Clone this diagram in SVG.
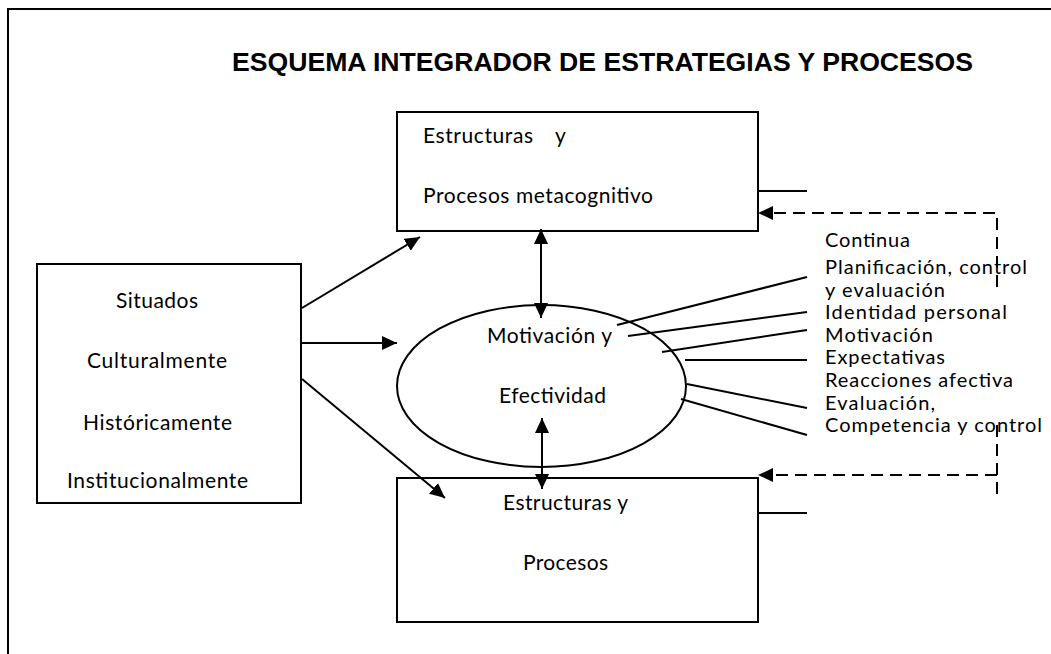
<svg xmlns="http://www.w3.org/2000/svg" width="1051" height="654" viewBox="0 0 1051 654">
<style>
.box{fill:#fff;stroke:#000;stroke-width:2}
.ln{fill:none;stroke:#000;stroke-width:2}
.dash{fill:none;stroke:#000;stroke-width:2;stroke-dasharray:12 7}
.head{fill:#000;stroke:none}
.t{font-family:Lato,"Open Sans",sans-serif;font-size:21px;fill:#000}
.s{font-family:Lato,"Open Sans",sans-serif;font-size:20px;fill:#000}
.title{font-family:"Liberation Sans",Arial,sans-serif;font-weight:bold;font-size:25px;fill:#000}
</style>
<defs>
<marker id="ah" viewBox="0 0 15 14" refX="15" refY="7" markerWidth="15" markerHeight="14" markerUnits="userSpaceOnUse" orient="auto-start-reverse">
<path d="M0,0 L15,7 L0,14 z" fill="#000"/>
</marker>
</defs>
<rect width="1051" height="654" fill="#fff"/>
<path class="ln" d="M8,654 V9 H1051"/>
<text class="title" x="232" y="71" textLength="741" lengthAdjust="spacingAndGlyphs">ESQUEMA INTEGRADOR DE ESTRATEGIAS Y PROCESOS</text>

<g id="node-top">
<rect class="box" x="397" y="112" width="361" height="119"/>
<text class="t" x="423" y="143" textLength="110">Estructuras</text>
<text class="t" x="555" y="143">y</text>
<text class="t" x="423" y="203" textLength="230">Procesos metacognitivo</text>
</g>

<g id="node-left">
<rect class="box" x="37" y="264" width="264" height="239"/>
<text class="t" x="116" y="308" textLength="82">Situados</text>
<text class="t" x="87" y="368" textLength="140">Culturalmente</text>
<text class="t" x="83" y="430" textLength="149">Históricamente</text>
<text class="t" x="67" y="488" textLength="181">Institucionalmente</text>
</g>

<g id="node-ellipse">
<ellipse cx="541.5" cy="386" rx="144.5" ry="81" fill="#fff" stroke="#000" stroke-width="2"/>
<text class="t" x="487" y="343" textLength="125">Motivación y</text>
<text class="t" x="499" y="403" textLength="107">Efectividad</text>
</g>

<g id="node-bottom">
<rect class="box" x="397" y="478" width="361" height="144"/>
<text class="t" x="503" y="510" textLength="125">Estructuras y</text>
<text class="t" x="523" y="570" textLength="85">Procesos</text>
</g>

<g id="labels">
<text class="s" x="825" y="247" textLength="85">Continua</text>
<text class="s" x="825" y="274" textLength="202">Planificación, control</text>
<text class="s" x="825" y="297" textLength="120">y evaluación</text>
<text class="s" x="825" y="319" textLength="182">Identidad personal</text>
<text class="s" x="825" y="342" textLength="108">Motivación</text>
<text class="s" x="825" y="364" textLength="120">Expectativas</text>
<text class="s" x="825" y="387" textLength="188">Reacciones afectiva</text>
<text class="s" x="825" y="410" textLength="110">Evaluación,</text>
<text class="s" x="825" y="432" textLength="217">Competencia y control</text>
</g>

<g id="connectors">
<line class="ln" x1="302" y1="308" x2="420" y2="237" marker-end="url(#ah)"/>
<line class="ln" x1="302" y1="343" x2="397" y2="343" marker-end="url(#ah)"/>
<line class="ln" x1="302" y1="379" x2="445" y2="498" marker-end="url(#ah)"/>
<line class="ln" x1="541" y1="318" x2="541" y2="229" marker-start="url(#ah)" marker-end="url(#ah)"/>
<line class="ln" x1="542" y1="418" x2="542" y2="489" marker-start="url(#ah)" marker-end="url(#ah)"/>
<line class="ln" x1="617" y1="325" x2="807" y2="277"/>
<line class="ln" x1="628" y1="336" x2="807" y2="312"/>
<line class="ln" x1="662" y1="352" x2="807" y2="330"/>
<line class="ln" x1="685" y1="360" x2="807" y2="360"/>
<line class="ln" x1="687" y1="384" x2="807" y2="408"/>
<line class="ln" x1="681" y1="399" x2="807" y2="435"/>
<line class="ln" x1="758" y1="191" x2="807" y2="191"/>
<line class="ln" x1="758" y1="513" x2="807" y2="513"/>
<path class="dash" d="M997,287 V213 H772"/>
<path class="head" d="M758,213 L773,206 L773,220 z"/>
<path class="dash" d="M997,425 V500"/>
<path class="dash" d="M997,475 H772"/>
<path class="head" d="M758,475 L773,468 L773,482 z"/>
</g>
</svg>
